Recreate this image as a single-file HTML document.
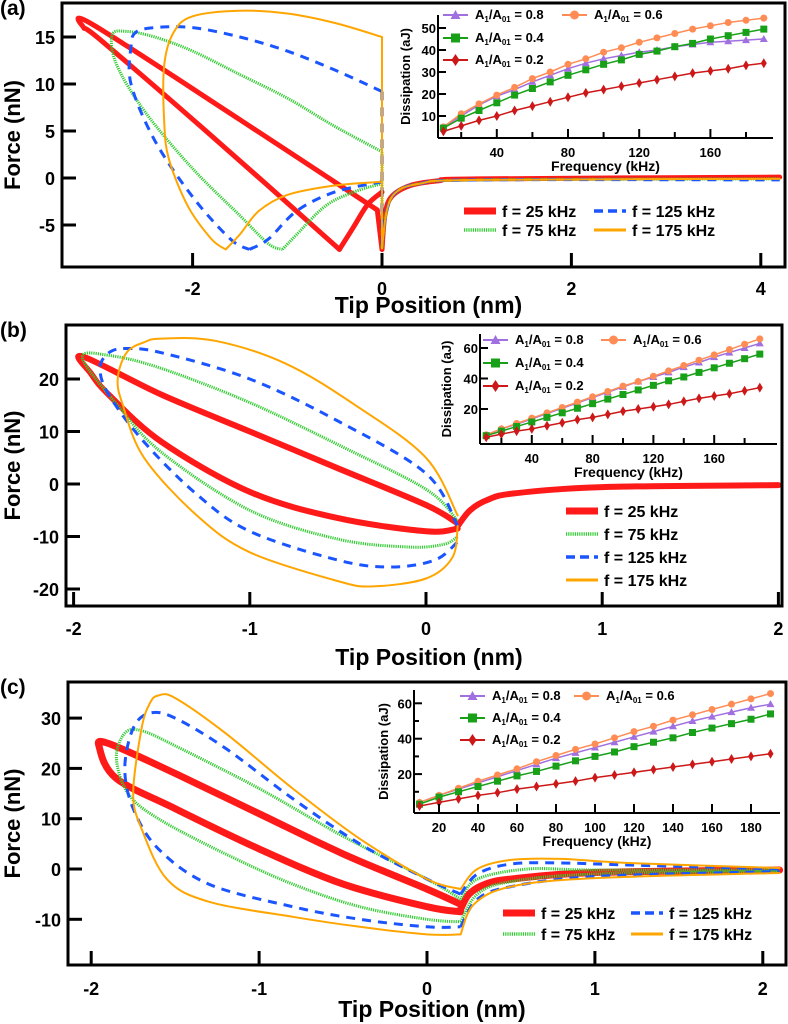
<!DOCTYPE html>
<html><head><meta charset="utf-8"><style>
html,body{margin:0;padding:0;background:#fff;}
svg{display:block;font-family:"Liberation Sans Narrow","Liberation Sans",sans-serif;font-weight:bold;}
</style></head><body>
<svg id="fig" width="788" height="1024" viewBox="0 0 788 1024"></svg>
<script>
// ===== Inset data (frequency kHz vs dissipation aJ) =====
const freqs = [10,20,30,40,50,60,70,80,90,100,110,120,130,140,150,160,170,180,190];
const aDiss08 = [5,10,15,19,22,25.5,28.5,31.5,34,36,37.5,39,40,41.5,42.5,43.5,44,44.5,45];
const aDiss06 = [5,11,15.5,19.5,23,27,30,33.5,36,39,41,43.5,45.5,47.5,49.5,51,52.5,53.5,54.5];
const aDiss04 = [4.5,9,12.5,16,19.5,22.5,25.5,28.5,31,33.5,35.5,38,39.5,41.5,43,45,46.5,48,49.5];
const aDiss02 = [3,5.5,8,10,12.5,14.5,16.5,18.5,20.5,22,23.5,25,26.5,28,29.5,30.5,31.5,33,34];
const bDiss08 = [3,7,10,13.5,17,20.5,24,27.5,31,34.5,38,41,44,47.5,50.5,54,57,60,63];
const bDiss06 = [3,7,10.5,14,17.5,21,24.5,28,31.5,35,38,41.5,45,48.5,52,55.5,59,62.5,66];
const bDiss04 = [2.5,5.5,8.5,11.5,14.5,17.5,20.5,23.5,26.5,29.5,32.5,35.5,38.5,41,44,47,50,53,56];
const bDiss02 = [1.5,3.5,5.5,7,9,11,13,14.5,16.5,18.5,20,21.5,23,25,27,28.5,30,32,34];
const cDiss08 = [4,8,11.5,15,18.5,22,25.5,29,32,35,38,41,44,47,50,52.5,55,57.5,59.5];
const cDiss06 = [4,8,12,16,19.5,23,27,30.5,34,37,40.5,44,47,50.5,53.5,56.5,59.5,62.5,65.5];
const cDiss04 = [3,7,10,13,16,19,21.5,24.5,27.5,30,32.5,35.5,38,40.5,43.5,46,48.5,51,54];
const cDiss02 = [2,4,6,8,9.5,11.5,13,14.5,16,18,19.5,21,22.5,24,25.5,27,28.5,30,31.5];

// ===== Force curves (tip position nm, force nN), segments =====
const aF25 = [[[-0.05,-3.4],[-1.5,6.2],[-3.05,16.3],[-3.15,16],[-2.95,14.5],[-1.7,3.6],[-0.45,-7.6]],[[-0.45,-7.6],[-0.3,-5.2],[-0.15,-2.8],[0,-1.5]],[[0,-7.6],[0.03,-4],[0.1,-2],[0.3,-0.8],[0.6,-0.3],[1,-0.1],[4.2,0.1]],[[-0.05,-3.4],[0,-7.6]]];
const aF75 = [[[0,2.8],[-0.5,5.5],[-1,8.5],[-1.5,11],[-2,13.5],[-2.4,15],[-2.7,15.6],[-2.85,15.2],[-2.8,12],[-2.5,7],[-2,1],[-1.5,-4],[-1.2,-7],[-1.05,-7.6]],[[-1.05,-7.6],[-0.9,-6],[-0.6,-3],[-0.3,-1.5],[0,-0.6]],[[0,2.8],[0,-7.5]],[[0,-7.5],[0.05,-3.5],[0.15,-1.5],[0.4,-0.6],[1,-0.2],[4.2,-0.1]]];
const aF125 = [[[0,9.2],[-0.5,11.5],[-1,13.5],[-1.5,15],[-2,16],[-2.4,16],[-2.6,15.5],[-2.65,14],[-2.65,10],[-2.4,4],[-2,-2],[-1.6,-6.5],[-1.4,-7.6]],[[-1.4,-7.6],[-1.2,-6.5],[-0.9,-3.5],[-0.5,-1.5],[0,-0.4]],[[0,9.2],[0,-7]],[[0,-7],[0.05,-3.5],[0.15,-1.5],[0.4,-0.6],[1,-0.2],[4.2,-0.2]]];
const aF175 = [[[0,15],[-0.5,16.5],[-1,17.5],[-1.5,17.8],[-2,17.2],[-2.2,15.5],[-2.3,12],[-2.3,6],[-2.25,2],[-2.05,-3],[-1.8,-6.5],[-1.65,-7.6]],[[-1.65,-7.6],[-1.5,-6],[-1.3,-3.5],[-1,-1.8],[-0.5,-0.8],[0,-0.4]],[[0,15],[0,-7.5]],[[0,-7.5],[0.05,-3.5],[0.15,-1.5],[0.4,-0.6],[1,-0.2],[4.2,-0.1]]];

const bF25 = [[[0.18,-7.5],[0,-4],[-0.5,3],[-1,10],[-1.5,17],[-1.95,24.3],[-1.9,21],[-1.8,17],[-1.5,8],[-1,-1.5],[-0.5,-6.5],[0,-9],[0.18,-8.5]],[[0.18,-8],[0.25,-5],[0.35,-3],[0.5,-1.8],[1,-0.6],[2,-0.2]]];
const bF75 = [[[0.18,-7],[0,-1],[-0.5,7.5],[-1,15.5],[-1.5,22],[-1.8,24.5],[-1.95,24],[-1.75,15],[-1.5,6],[-1,-5],[-0.5,-10.5],[-0.1,-12],[0.1,-11.5],[0.18,-10]]];
const bF125 = [[[0.18,-8],[0,2],[-0.5,12],[-1,20],[-1.5,25],[-1.7,25.8],[-1.8,25],[-1.85,22],[-1.8,17],[-1.6,8],[-1.3,-2],[-1,-9],[-0.5,-14.5],[-0.2,-15.8],[0.05,-14.5],[0.18,-11]]];
const bF175 = [[[0.18,-6],[0,5],[-0.4,15],[-0.8,23],[-1.2,27.3],[-1.5,27.7],[-1.6,27],[-1.7,25],[-1.75,20],[-1.72,15],[-1.6,5],[-1.3,-6],[-1,-13],[-0.5,-18.5],[-0.3,-19.5],[0,-18],[0.15,-14],[0.18,-8]]];

const cF25 = [[[0.2,-7],[0,-4],[-0.5,3],[-1,11],[-1.5,19],[-1.9,25],[-1.95,24],[-1.85,18],[-1.5,12],[-1,4],[-0.5,-3],[0,-7.5],[0.2,-8.5]],[[0.2,-8],[0.25,-5],[0.35,-3],[0.5,-2],[1,-0.7],[2.1,-0.2]]];
const cF75 = [[[0.2,-6],[0,-2],[-0.5,6.5],[-1,16],[-1.5,24.5],[-1.7,27.5],[-1.8,27],[-1.85,22],[-1.78,15],[-1.6,10],[-1.2,3],[-0.8,-3],[-0.4,-7.5],[0,-10],[0.2,-10.5]],[[0.2,-6],[0.3,-2],[0.6,0],[1,-0.2],[2.1,-0.2]],[[0.2,-10.5],[0.3,-5],[0.5,-2.5],[1,-1],[2.1,-0.5]]];
const cF125 = [[[0.2,-5],[0,-2],[-0.4,5],[-0.8,14],[-1.2,24],[-1.5,30],[-1.65,31],[-1.75,28],[-1.8,20],[-1.75,12],[-1.6,4],[-1.3,-3],[-0.8,-7.5],[-0.4,-10],[0,-11.5],[0.2,-11.5]],[[0.2,-5],[0.3,-1],[0.5,1],[0.8,1.2],[1.2,0.8],[2.1,0]],[[0.2,-11.5],[0.3,-6],[0.5,-3.5],[1,-1.5],[2.1,-0.5]]];
const cF175 = [[[0.2,-4],[0,-2],[-0.4,6],[-0.8,16],[-1.2,27],[-1.5,34],[-1.6,34.5],[-1.65,33],[-1.7,28],[-1.75,15],[-1.7,8],[-1.55,-2],[-1.3,-6.5],[-0.8,-9.5],[-0.4,-11.5],[0,-13],[0.2,-13]],[[0.2,-4],[0.3,0],[0.5,1.8],[0.8,2],[1.2,1.2],[2.1,0.2]],[[0.2,-13],[0.28,-7],[0.5,-3.5],[1,-1.8],[2.1,-0.8]]];

const mainXTicks = {a:[-2,0,2,4], b:[-2,-1,0,1,2], c:[-2,-1,0,1,2]};
const mainYTicks = {a:[-5,0,5,10,15], b:[-20,-10,0,10,20], c:[-10,0,10,20,30]};

const NS='http://www.w3.org/2000/svg';
const fig=document.getElementById('fig');
function mk(tag, attrs, parent){const e=document.createElementNS(NS,tag);for(const k in attrs)e.setAttribute(k,attrs[k]);(parent||fig).appendChild(e);return e;}
function txt(s,x,y,size,anchor,parent,extra){const t=mk('text',Object.assign({x:x,y:y,'font-size':size,'text-anchor':anchor||'middle'},extra||{}),parent);t.textContent=s;return t;}
function smooth(pts){let d='M'+pts[0][0].toFixed(1)+','+pts[0][1].toFixed(1);for(let i=0;i<pts.length-1;i++){const p0=pts[Math.max(0,i-1)],p1=pts[i],p2=pts[i+1],p3=pts[Math.min(pts.length-1,i+2)];const c1=[p1[0]+(p2[0]-p0[0])/6,p1[1]+(p2[1]-p0[1])/6],c2=[p2[0]-(p3[0]-p1[0])/6,p2[1]-(p3[1]-p1[1])/6];d+='C'+c1.map(v=>v.toFixed(1))+' '+c2.map(v=>v.toFixed(1))+' '+p2.map(v=>v.toFixed(1));}return d;}

const styles={
 f25:{stroke:'#ff1a1a',w:5},
 f75:{stroke:'#33cc33',w:3,dash:'1.2,1'},
 f125:{stroke:'#1a55ff',w:3,dash:'9,7'},
 f175:{stroke:'#ffa500',w:2}
};
function panel(P){
 const g=mk('g',{});
 
 
 const sx=v=>P.x0+v*P.kx, sy=v=>P.y0-v*P.ky;
 const cp=mk('clipPath',{id:'clip'+P.id},g);
 mk('rect',{x:P.L,y:P.T,width:P.R-P.L,height:P.B-P.T},cp);
 const lab=txt('('+P.id+')',0,P.T+12,21,'start',g,{'font-family':'Liberation Sans, sans-serif'});
 
 
 const series=[['f25',P.s[0],P.w25],['f75',P.s[1]],['f125',P.s[2]],['f175',P.s[3]]];
 const sg=mk('g',{'clip-path':'url(#clip'+P.id+')'},g);
 series.forEach(([k,segs,w])=>{
  segs.forEach(seg=>{
   const st=styles[k];
   const p=mk('path',{d:smooth(seg.map(q=>[sx(q[0]),sy(q[1])])),fill:'none',stroke:st.stroke,'stroke-width':w||st.w,'stroke-linejoin':'round','stroke-linecap':st.dash?'butt':'round'},sg);
   if(st.dash)p.setAttribute('stroke-dasharray',st.dash);
   
   
  });
 });
 const fr=mk('rect',{x:P.L,y:P.T,width:P.R-P.L,height:P.B-P.T,fill:'none',stroke:'#000','stroke-width':3},g);
 
 
 P.xt.forEach(v=>{
  mk('line',{x1:sx(v),x2:sx(v),y1:P.B,y2:P.B-14,stroke:'#000','stroke-width':3},g);
  const t=txt(v<0?'-'+(-v):String(v),sx(v),P.xl,18,'middle',g);
  
  
 });
 P.yt.forEach(v=>{
  mk('line',{x1:P.L,x2:P.L+14,y1:sy(v),y2:sy(v),stroke:'#000','stroke-width':3},g);
  const t=txt(v<0?'-'+(-v):String(v),P.L-7,sy(v)+7,18,'end',g);
  
  
 });
 const xt=txt('Tip Position (nm)',(P.L+P.R)/2+5,P.xtitle,23,'middle',g);
 
 
 const cy=(P.T+P.B)/2;
 const yt=txt('Force (nN)',0,0,22,'middle',g,{transform:'translate(20,'+cy+') rotate(-90)','font-family':'Liberation Sans, sans-serif'});
 
 
 const names=['f = 25 kHz','f = 75 kHz','f = 125 kHz','f = 175 kHz'];
 const keys=['f25','f75','f125','f175'];
 P.leg.forEach((pos,i)=>{
  const st=styles[keys[i]];
  const l=mk('line',{x1:pos[0],x2:pos[0]+32,y1:pos[1],y2:pos[1],stroke:st.stroke,'stroke-width':i==0?7:(i==3?3:3.5)},g);
  if(st.dash)l.setAttribute('stroke-dasharray',i==2?'9,5':'1.2,1');
  
  
  const t=txt(names[i],pos[0]+38,pos[1]+6,16,'start',g);
  
  
 });
 inset(P.ins,g);
}
function inset(I,parent){
 const g=mk('g',{},parent);
 
 
 const sx=v=>I.x0+v*I.kx, sy=v=>I.y0-v*I.ky;
 const cols={d08:'#a070e0',d06:'#ff8c55',d04:'#18a018',d02:'#cc1818'};
 const ser=[['d08',I.d[0]],['d06',I.d[1]],['d04',I.d[2]],['d02',I.d[3]]];
 ser.forEach(([k,vals])=>{
  const pts=vals.map((v,i)=>[sx(freqs[i]),sy(v)]);
  const pl=mk('polyline',{points:pts.map(p=>p.join(',')).join(' '),fill:'none',stroke:cols[k],'stroke-width':1.5},g);
  
  
  pts.forEach(p=>{
   let m;
   if(k=='d08')m=mk('polygon',{points:[p[0],p[1]-4,p[0]-4,p[1]+3,p[0]+4,p[1]+3].join(' '),fill:cols[k]},g);
   else if(k=='d06')m=mk('circle',{cx:p[0],cy:p[1],r:3.5,fill:cols[k]},g);
   else if(k=='d04')m=mk('rect',{x:p[0]-3.5,y:p[1]-3.5,width:7,height:7,fill:cols[k]},g);
   else m=mk('polygon',{points:[p[0],p[1]-5,p[0]-3,p[1],p[0],p[1]+5,p[0]+3,p[1]].join(' '),fill:cols[k]},g);
   
   
  });
 });
 mk('line',{x1:I.L,x2:I.L,y1:I.T,y2:I.B,stroke:'#000','stroke-width':2},g);
 mk('line',{x1:I.L,x2:I.R,y1:I.B,y2:I.B,stroke:'#000','stroke-width':2},g);
 I.xt.forEach(v=>{
  mk('line',{x1:sx(v),x2:sx(v),y1:I.B,y2:I.B-(I.xl.includes(v)?9:6),stroke:'#000','stroke-width':2},g);
  if(I.xl.includes(v)){const t=txt(String(v),sx(v),I.B+19,13,'middle',g);
  
  }
 });
 I.yt.forEach(v=>{
  mk('line',{x1:I.L,x2:I.L+(I.yl.includes(v)?8:5),y1:sy(v),y2:sy(v),stroke:'#000','stroke-width':2},g);
  if(I.yl.includes(v)){const t=txt(String(v),I.L-2,sy(v)+5,13,'end',g);
  
  }
 });
 const xt=txt('Frequency (kHz)',(I.L+I.R)/2,I.B+33,14,'middle',g);
 
 
 const yt=txt('Dissipation (aJ)',0,0,13,'middle',g,{transform:'translate('+I.ylx+','+((I.T+I.B)/2)+') rotate(-90)','font-family':'Liberation Sans, sans-serif'});
 
 
 const labs=[['0.8','d08'],['0.6','d06'],['0.4','d04'],['0.2','d02']];
 I.leg.forEach((pos,i)=>{
  const [val,k]=labs[i];
  const l=mk('line',{x1:pos[0],x2:pos[0]+25,y1:pos[1],y2:pos[1],stroke:cols[k],'stroke-width':2},g);
  
  
  const mx=pos[0]+12.5,my=pos[1];
  if(k=='d08')mk('polygon',{points:[mx,my-5,mx-5,my+4,mx+5,my+4].join(' '),fill:cols[k]},g);
  else if(k=='d06')mk('circle',{cx:mx,cy:my,r:4.5,fill:cols[k]},g);
  else if(k=='d04')mk('rect',{x:mx-4.5,y:my-4.5,width:9,height:9,fill:cols[k]},g);
  else mk('polygon',{points:[mx,my-6,mx-4,my,mx,my+6,mx+4,my].join(' '),fill:cols[k]},g);
  const t=mk('text',{x:pos[0]+32,y:pos[1]+4,'font-size':13,'text-anchor':'start'},g);
  t.innerHTML='A<tspan font-size="8" dy="3">1</tspan><tspan dy="-3">/A</tspan><tspan font-size="8" dy="3">01</tspan><tspan dy="-3"> = '+val+'</tspan>';
  
  
 });
}
panel({id:'a',L:62,R:785,T:3,B:267,x0:382,kx:94.7,y0:178,ky:9.4,xt:mainXTicks.a,yt:mainYTicks.a,xl:295,xtitle:313,w25:5,
 s:[aF25,aF75,aF125,aF175],
 leg:[[464,211],[464,230],[594,211],[594,230]],
 ins:{L:438,R:773,T:15,B:138,x0:425.6,kx:1.78,y0:138,ky:2.2,xt:[20,40,60,80,100,120,140,160,180],xl:[40,80,120,160],yt:[10,20,30,40,50],yl:[10,20,30,40,50],ylx:410,
  d:[aDiss08,aDiss06,aDiss04,aDiss02],leg:[[443,15],[562,15],[443,38],[443,60]]}
});
panel({id:'b',L:66,R:782,T:325,B:606,x0:426,kx:176.2,y0:484,ky:5.25,xt:mainXTicks.b,yt:mainYTicks.b,xl:635,xtitle:665,w25:6,
 s:[bF25,bF75,bF125,bF175],
 leg:[[566,511],[566,534],[566,557],[566,580]],
 ins:{L:480,R:777,T:334,B:444,x0:471,kx:1.52,y0:439.5,ky:1.525,xt:[20,40,60,80,100,120,140,160,180],xl:[40,80,120,160],yt:[20,40,60],yl:[20,40,60],ylx:451,
  d:[bDiss08,bDiss06,bDiss04,bDiss02],leg:[[483,340],[601,340],[483,363],[483,386]]}
});
panel({id:'c',L:68,R:786,T:682,B:965,x0:427,kx:167.9,y0:869,ky:5.03,xt:mainXTicks.c,yt:mainYTicks.c,xl:995,xtitle:1017,w25:7,
 s:[cF25,cF75,cF125,cF175],
 leg:[[503,913],[503,934],[631,913],[631,934]],
 ins:{L:414,R:780,T:690,B:813,x0:400,kx:1.95,y0:809.5,ky:1.77,xt:[20,40,60,80,100,120,140,160,180],xl:[20,40,60,80,100,120,140,160,180],yt:[10,20,30,40,50,60],yl:[20,40,60],ylx:388,
  d:[cDiss08,cDiss06,cDiss04,cDiss02],leg:[[460,696],[574,696],[460,718],[460,740]]}
});
</script>
</body></html>
